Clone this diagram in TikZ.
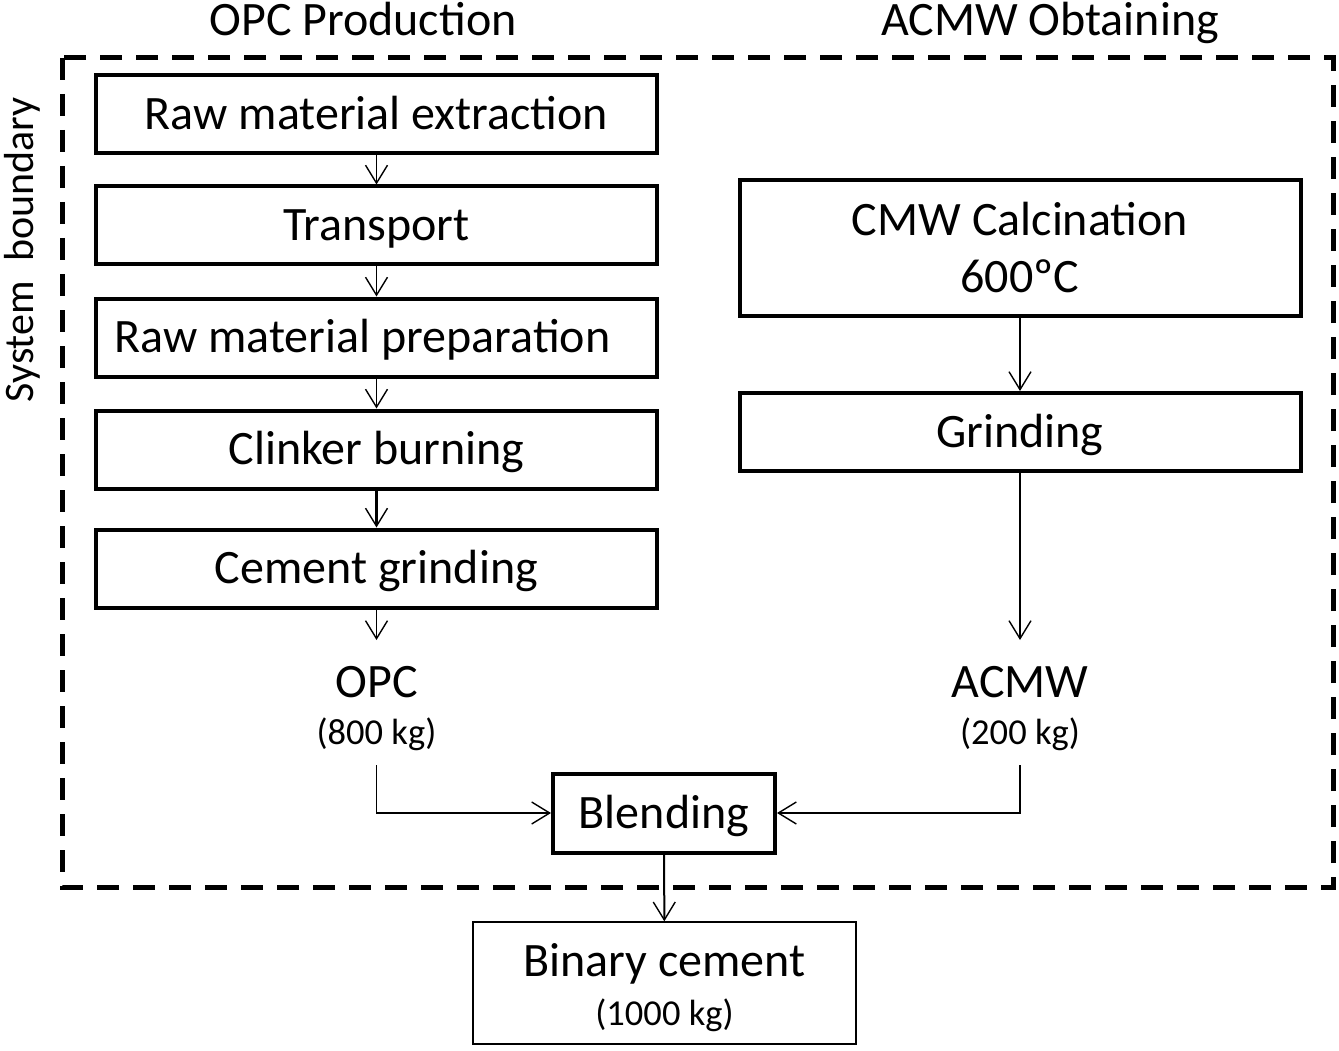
\documentclass[tikz,border=0pt]{standalone}
\usepackage{fontspec}
\setmainfont{Carlito}
\usetikzlibrary{arrows.meta}
\begin{document}
\begin{tikzpicture}[x=1pt,y=-1pt,
  basebox/.style={draw,line width=4pt,minimum width=561pt,minimum height=78pt,inner sep=0pt,font=\fontsize{48}{56}\selectfont},
  procbox/.style={basebox,text height=33pt,text depth=3pt},
  thinarrow/.style={line width=1.4pt,-{Straight Barb[length=18pt,width=22pt,line width=1.4pt]}},
  bigtxt/.style={font=\fontsize{48}{56}\selectfont,inner sep=0pt},
  smalltxt/.style={font=\fontsize{36.5}{44}\selectfont,inner sep=0pt}]
\useasboundingbox (0,0) rectangle (1339,1051);
% boundary
\draw[line width=5pt,dash pattern=on 22pt off 14pt] (62,58) rectangle (1333,887);
\node[bigtxt,anchor=base] (t1) at (363,36) {OPC Production};
\node[bigtxt,anchor=base] (t2) at (1050,36) {ACMW Obtaining};
\node[font=\fontsize{42}{48}\selectfont,inner sep=0pt,rotate=90] (sb) at (22,250) {System\ \ boundary};
% left column
\node[procbox] (b1) at (376.5,114.5) {Raw material extraction};
\node[procbox] (b2) at (376.5,225.5) {Transport};
\node[procbox] (b3) at (376.5,337.5) {\hspace*{-28pt}Raw material preparation};
\node[procbox] (b4) at (376.5,449.5) {Clinker burning};
\node[procbox] (b5) at (376.5,568.5) {Cement grinding};
\coordinate (opcA) at (376.5,640);
\node[bigtxt] (opc) at (376.5,682) {OPC};
\node[smalltxt] (opckg) at (376.5,734) {(800 kg)};
\coordinate (opcB) at (376.5,765);
\draw[thinarrow] (b1) -- (b2);
\draw[thinarrow] (b2) -- (b3);
\draw[thinarrow] (b3) -- (b4);
\draw[thinarrow,line width=2.6pt] (b4) -- (b5);
\draw[thinarrow] (b5) -- (opcA);
% right column
\node[basebox,minimum height=136pt,align=center,font=\fontsize{48}{57}\selectfont] (c1) at (1020,248) {CMW Calcination\\600ºC};
\node[procbox] (c2) at (1020,432) {Grinding};
\coordinate (acA) at (1020,640);
\node[bigtxt] (acmw) at (1020,682) {ACMW};
\node[smalltxt] (ackg) at (1020,734) {(200 kg)};
\coordinate (acB) at (1020,765);
\draw[thinarrow] (c1) -- (c2);
\draw[thinarrow] (c2) -- (acA);
% blending
\node[draw,line width=4pt,minimum width=222pt,minimum height=79pt,inner sep=0pt,text height=33pt,text depth=3pt,font=\fontsize{48}{56}\selectfont] (bl) at (664,813) {Blending};
\draw[thinarrow] (opcB) |- (bl.west);
\draw[thinarrow] (acB) |- (bl.east);
\node[draw,line width=1.4pt,minimum width=383pt,minimum height=122pt,inner sep=0pt] (bc) at (664.5,983) {};
\node[bigtxt] (bct) at (664.5,964) {Binary cement};
\node[smalltxt] (bckg) at (664.5,1015) {(1000 kg)};
\draw[thinarrow,line width=2pt] (bl) -- (bc);
\end{tikzpicture}
\end{document}
